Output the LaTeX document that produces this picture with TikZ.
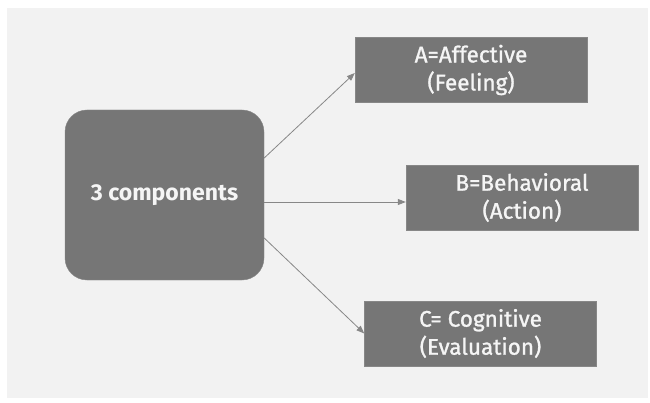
\documentclass[tikz,border=0pt]{standalone}
\usepackage{fontspec}
\setmainfont{Fira Sans}
\newfontfamily\medfont[RawFeature={embolden=1.2}]{Fira Sans}
\usetikzlibrary{arrows.meta}
\definecolor{boxgray}{RGB}{118,118,118}
\definecolor{edgegray}{RGB}{135,135,135}
\definecolor{bggray}{RGB}{242,242,242}
\definecolor{textgray}{RGB}{245,245,245}

\begin{document}
\begin{tikzpicture}[x=1pt,y=-1pt,
        main/.style = {draw=edgegray, fill=boxgray, rounded corners=22pt, text=textgray,
            minimum width=199pt, minimum height=170pt, font=\fontsize{23}{28}\selectfont\bfseries},
        part/.style = {draw=edgegray, fill=boxgray, text=textgray, align=center, inner sep=0pt,
            minimum width=232pt, minimum height=65pt, font=\fontsize{22.5}{28}\selectfont\medfont},
        link/.style = {draw=edgegray, line width=0.8pt, -{Triangle[length=8pt,width=6pt]}}]
        \useasboundingbox (0,0) rectangle (650,403);
        \fill[white] (0,0) rectangle (650,403);
        \fill[bggray] (7,8) rectangle (648,398);

        \node[main] (0) at (164.5,195) {3 components};
        \node[part] (1) at (471,70) {A=Affective\\(Feeling)};
        \node[part] (2) at (522,197.5) {B=Behavioral\\(Action)};
        \node[part] (3) at (480.5,333.5) {C= Cognitive\\(Evaluation)};

        \draw[link] ([yshift=37pt]0.east) -- ([yshift=-3pt]1.west);
        \draw[link] ([yshift=-7pt]0.east) -- ([yshift=-4.5pt]2.west);
        \draw[link] ([yshift=-43pt]0.east) -- (3.west);
\end{tikzpicture}
\end{document}
